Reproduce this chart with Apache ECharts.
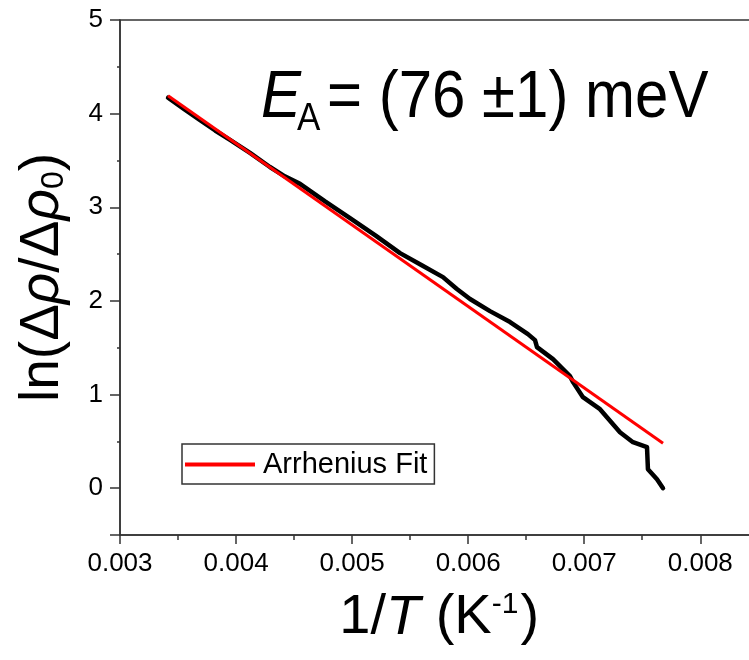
<!DOCTYPE html>
<html><head><meta charset="utf-8">
<script src="https://cdn.jsdelivr.net/npm/echarts@6/dist/echarts.min.js"></script>
<style>html,body{margin:0;padding:0;background:#fff}#c{width:749px;height:660px}</style>
</head><body><div id="c"></div>
<script>
// Measured curve: x = 1/T (K^-1), y = ln(Δρ/Δρ0)
const invT = [0.003414, 0.00355, 0.00369, 0.00382, 0.003948, 0.00412, 0.004292, 0.00442, 0.004551, 0.00477, 0.004982, 0.0052, 0.005413, 0.0056, 0.005783, 0.0059, 0.006016, 0.006188, 0.006361, 0.006515, 0.006576, 0.006593, 0.006731, 0.006877, 0.006905, 0.006989, 0.007136, 0.007308, 0.00742, 0.007541, 0.007549, 0.007627, 0.007679];
const lnRho = [4.17, 4.05, 3.93, 3.82, 3.72, 3.58, 3.43, 3.33, 3.25, 3.06, 2.885, 2.70, 2.51, 2.38, 2.254, 2.13, 2.02, 1.891, 1.774, 1.645, 1.581, 1.506, 1.378, 1.197, 1.13, 0.972, 0.844, 0.598, 0.491, 0.438, 0.203, 0.096, 0.0];
// Arrhenius fit line endpoints
const fitX = [0.003414, 0.007679];
const fitY = [4.19, 0.48];
// Tick labels
const xTickLabels = ['0.003', '0.004', '0.005', '0.006', '0.007', '0.008'];
const yTickLabels = ['0', '1', '2', '3', '4', '5'];
const legendName = 'Arrhenius Fit';

const FONT = "'Liberation Sans', Arial, sans-serif";
const AX = '#333';

function xFmt(v) {
  const s = v.toFixed(3);
  return xTickLabels.indexOf(s) >= 0 && Math.abs(v - parseFloat(s)) < 1e-9 ? s : '';
}
function yFmt(v) {
  const s = String(Math.round(v));
  return Math.abs(v - Math.round(v)) < 1e-9 && yTickLabels.indexOf(s) >= 0 ? s : '';
}

const chart = echarts.init(document.getElementById('c'), null, {renderer: 'canvas'});
const xMin = 0.003, xMax = 0.0085, yMin = -0.5, yMax = 5;

chart.setOption({
  animation: false,
  backgroundColor: '#fff',
  grid: {left: 120, top: 20, width: 638.3, height: 515, show: true, borderColor: AX, borderWidth: 1.5, backgroundColor: 'transparent', outerBoundsMode: 'none', containLabel: false},
  legend: {
    data: [{name: legendName, icon: 'rect'}], left: 182, top: 444, orient: 'horizontal',
    borderColor: AX, borderWidth: 1.5, padding: [6, 7, 5, 3],
    itemWidth: 70, itemHeight: 4,
    textStyle: {fontSize: 29, color: '#000', fontFamily: FONT, padding: [0, 0, 0, 3]}
  },
  xAxis: [
    {
      type: 'value', min: xMin, max: xMax, interval: 0.001, position: 'bottom',
      axisLine: {show: true, onZero: false, lineStyle: {color: AX, width: 1.5}},
      axisTick: {show: true, inside: false, length: 9, lineStyle: {color: AX, width: 1.5}},
      axisLabel: {show: true, margin: 16, fontSize: 26, color: '#000', fontFamily: FONT, formatter: xFmt, showMaxLabel: true},
      splitLine: {show: false},
      name: '{n|1/}{i|T}{n| (K}{s|-1}{n|)}', nameLocation: 'middle', nameGap: 55,
      nameTextStyle: {
        color: '#000', fontFamily: FONT, fontSize: 56,
        rich: {
          n: {fontSize: 56, fontFamily: FONT, color: '#000'},
          i: {fontSize: 56, fontFamily: FONT, fontStyle: 'italic', color: '#000'},
          s: {fontSize: 30, fontFamily: FONT, color: '#000', verticalAlign: 'top', padding: [0, 2, 0, 0]}
        }
      }
    },
    {
      type: 'value', min: xMin, max: xMax, interval: 0.0005, position: 'bottom',
      axisLine: {show: false, onZero: false},
      axisTick: {show: true, inside: false, length: 5, lineStyle: {color: AX, width: 1.5}},
      axisLabel: {show: false}, splitLine: {show: false}
    }
  ],
  yAxis: [
    {
      type: 'value', min: yMin, max: yMax, position: 'left', splitNumber: 5,
      axisLine: {show: true, onZero: false, lineStyle: {color: AX, width: 1.5}},
      axisTick: {show: true, inside: false, length: 10, lineStyle: {color: AX, width: 1.5}},
      axisLabel: {show: true, margin: 17, fontSize: 26, color: '#000', fontFamily: FONT, formatter: yFmt},
      splitLine: {show: false},
      name: '{n|ln(Δ}{i|ρ}{n|/Δ}{i|ρ}{b|0}{n|)}', nameLocation: 'middle', nameRotate: 90, nameGap: 50,
      nameTextStyle: {
        color: '#000', fontFamily: FONT, fontSize: 55,
        rich: {
          n: {fontSize: 55, fontFamily: FONT, color: '#000'},
          i: {fontSize: 55, fontFamily: FONT, fontStyle: 'italic', color: '#000'},
          b: {fontSize: 32, fontFamily: FONT, color: '#000', verticalAlign: 'bottom'}
        }
      }
    },
    {
      type: 'value', min: yMin, max: yMax, interval: 0.5, position: 'left',
      axisLine: {show: false, onZero: false},
      axisTick: {show: true, inside: false, length: 3, lineStyle: {color: AX, width: 1.5}},
      axisLabel: {show: false}, splitLine: {show: false}
    }
  ],
  graphic: [
    {type: 'text', x: 261, y: 99, scaleY: 1.1, style: {text: 'E', fontSize: 60, fontStyle: 'italic', fontFamily: FONT, fill: '#000', verticalAlign: 'middle', align: 'left'}},
    {type: 'text', x: 297, y: 119, scaleY: 1.1, style: {text: 'A', fontSize: 35, fontFamily: FONT, fill: '#000', verticalAlign: 'middle', align: 'left'}},
    {type: 'text', x: 327, y: 99, scaleY: 1.1, style: {text: '= (76 ±1) meV', fontSize: 60, fontFamily: FONT, fill: '#000', verticalAlign: 'middle', align: 'left'}}
  ],
  series: [
    {
      name: 'data', type: 'line', xAxisIndex: 0, yAxisIndex: 0,
      data: invT.map((x, i) => [x, lnRho[i]]),
      symbol: 'none', showSymbol: false,
      lineStyle: {color: '#000', width: 4.5, cap: 'round', join: 'round'},
      itemStyle: {color: '#000'}
    },
    {
      name: legendName, type: 'line', xAxisIndex: 0, yAxisIndex: 0,
      data: fitX.map((x, i) => [x, fitY[i]]),
      symbol: 'none', showSymbol: false,
      lineStyle: {color: '#ff0000', width: 3},
      itemStyle: {color: '#ff0000'}
    }
  ]
});
</script>
</body></html>
